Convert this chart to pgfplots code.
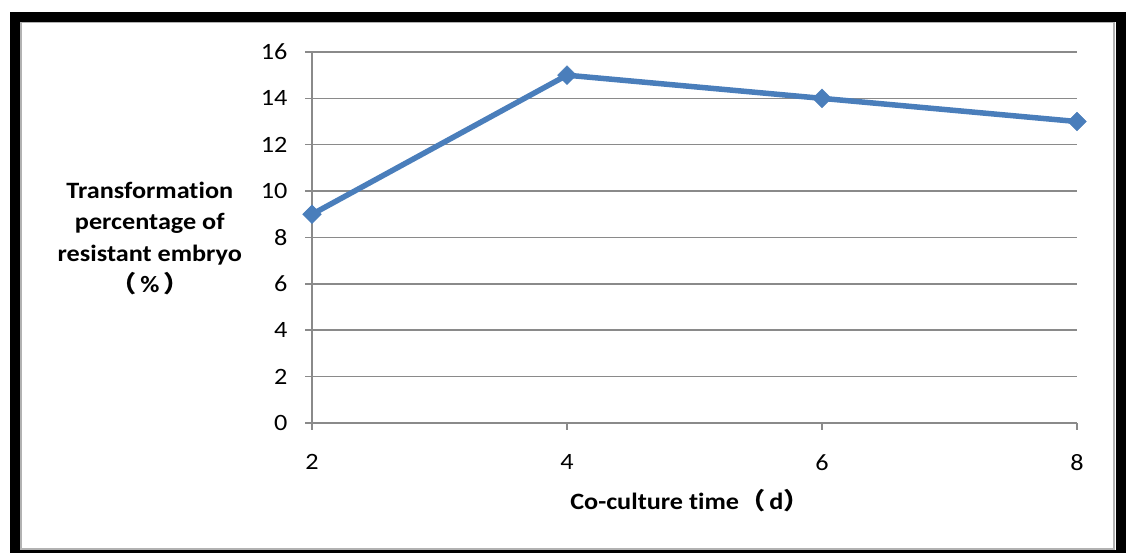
\documentclass[border=0pt]{standalone}
\usepackage{pgfplots}
\pgfplotsset{compat=1.18}
\usepackage{fontspec}
\setmainfont[FakeStretch=1.12, Ligatures=NoCommon]{Carlito}
\newfontfamily\cjk[FakeStretch=1.12]{Noto Sans CJK SC}
\definecolor{exblue}{HTML}{4A7EBB}
\definecolor{grd}{HTML}{8A8A8A}
\begin{document}
\begin{tikzpicture}[x=1bp,y=1bp]
\fill[white] (0,0) rectangle (1128,553);
\path[use as bounding box] (0,0) rectangle (1128,553);
\begin{axis}[
  at={(312bp,130bp)}, anchor=south west,
  scale only axis, width=765bp, height=371bp,
  xmin=2, xmax=8, ymin=0, ymax=16,
  xtick={2,4,6,8}, ytick={0,2,...,16},
  axis lines*=left,
  axis line style={grd, line width=1.5bp},
  ymajorgrids, grid style={grd, line width=1.5bp},
  tick align=outside, major tick length=7bp,
  tick style={grd, line width=1.5bp},
  ticklabel style={font=\fontsize{23.5}{28}\selectfont},
  /pgf/number format/assume math mode=true,
  yticklabel style={xshift=-14bp},
  xticklabel style={yshift=-21bp},
  xlabel={\textbf{Co-culture time}{\cjk （}\,\textbf{d}{\cjk ）}},
  ylabel={Transformation\\percentage of\\resistant embryo\\{\cjk （}\,\%\,{\cjk ）}},
  every axis x label/.style={at={(axis description cs:0.494,-0.210)}, anchor=center, font=\fontsize{23.5}{28}\selectfont\bfseries},
  every axis y label/.style={at={(axis description cs:-0.212,0.497)}, anchor=center, align=center, font=\fontsize{23.5}{31.5}\selectfont\bfseries},
  clip=false,
]
\addplot[exblue, line width=5.5bp, mark=square*, mark size=6.6bp, mark options={fill=exblue, line width=0.5bp, rotate=45}]
  coordinates {(2,9) (4,15) (6,14) (8,13)};
\end{axis}
\draw[gray!60, line width=2bp] (21, 531) rectangle (1114, 4);
\draw[black, line width=10bp] (15, 536) rectangle (1121, -2);
\end{tikzpicture}
\end{document}
